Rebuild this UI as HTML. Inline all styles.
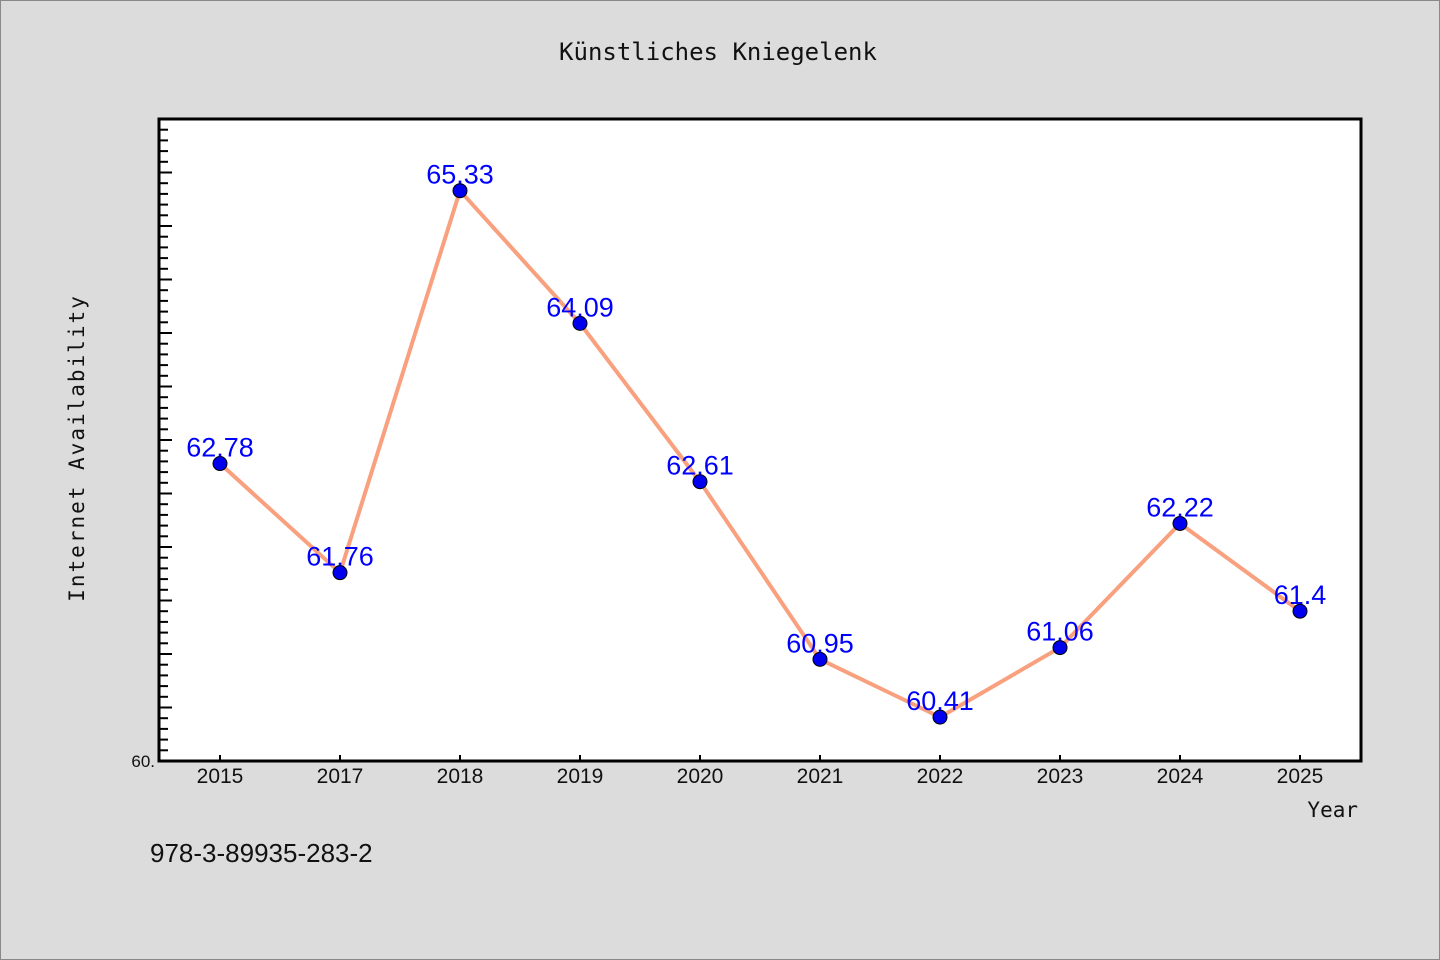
<!DOCTYPE html>
<html><head><meta charset="utf-8">
<style>
body{margin:0;background:#dcdcdc;}
svg{display:block;font-family:"Liberation Sans","DejaVu Sans",sans-serif;}
</style></head>
<body>
<svg id="chart" width="1440" height="960" viewBox="0 0 1440 960">
<rect x="0.5" y="0.5" width="1439" height="959" fill="#dcdcdc" stroke="#888"/>
<text x="718" y="60" font-size="24" text-anchor="middle" fill="#111" font-family="DejaVu Sans Mono, Liberation Mono, monospace">Künstliches Kniegelenk</text>
<rect x="159" y="119" width="1202" height="642" fill="#fff"/>
<g id="ticks"></g>
<g id="series"></g>
<rect x="159" y="119" width="1202" height="642" fill="none" stroke="#000" stroke-width="3"/>
<text transform="translate(84,448) rotate(-90)" font-size="21" text-anchor="middle" fill="#111" letter-spacing="2" font-family="DejaVu Sans Mono, Liberation Mono, monospace">Internet Availability</text>
<text x="1358" y="817" font-size="21" text-anchor="end" fill="#111" font-family="DejaVu Sans Mono, Liberation Mono, monospace">Year</text>
<text x="155" y="767" font-size="17" text-anchor="end" fill="#111">60.</text>
<text x="150" y="862" font-size="26" fill="#111">978-3-89935-283-2</text>
</svg>
<script>
const categories=["2015","2017","2018","2019","2020","2021","2022","2023","2024","2025"];
const values=[62.78,61.76,65.33,64.09,62.61,60.95,60.41,61.06,62.22,61.4];
const labels=["62.78","61.76","65.33","64.09","62.61","60.95","60.41","61.06","62.22","61.4"];
const yMin=60,yMax=66;
const NS="http://www.w3.org/2000/svg";
const X0=159,X1=1361,Y0=761,Y1=119;
const xs=i=>220+i*(1300-220)/(categories.length-1);
const ys=v=>Y0-(v-yMin)/(yMax-yMin)*(Y0-Y1);
function mk(t,a,p){const e=document.createElementNS(NS,t);for(const k in a)e.setAttribute(k,a[k]);p.appendChild(e);return e;}
const tg=document.getElementById('ticks');
for(let k=1;k<60;k++){const v=yMin+k*0.1;const major=k%5===0;
const t=mk('line',{x1:X0,x2:X0+(major?13:9),y1:ys(v),y2:ys(v),stroke:'#000','stroke-width':2},tg);

}
categories.forEach((c,i)=>{
const t=mk('line',{x1:xs(i),x2:xs(i),y1:Y0,y2:Y0-6,stroke:'#000','stroke-width':2},tg);


const l=mk('text',{x:xs(i),y:783,'font-size':21,'text-anchor':'middle',fill:'#111'},tg);
l.textContent=c;

});
const sg=document.getElementById('series');
const line=mk('polyline',{points:values.map((v,i)=>xs(i)+','+ys(v)).join(' '),fill:'none',stroke:'#f9a07e','stroke-width':4,'stroke-linejoin':'round'},sg);


values.forEach((v,i)=>{
const p=mk('circle',{cx:xs(i),cy:ys(v),r:7,fill:'#0000ee',stroke:'#000','stroke-width':1},sg);


const l=mk('text',{x:xs(i),y:ys(v)-7,'font-size':27,'text-anchor':'middle',fill:'#0000ff'},sg);
l.textContent=labels[i];

});
</script>
</body></html>
